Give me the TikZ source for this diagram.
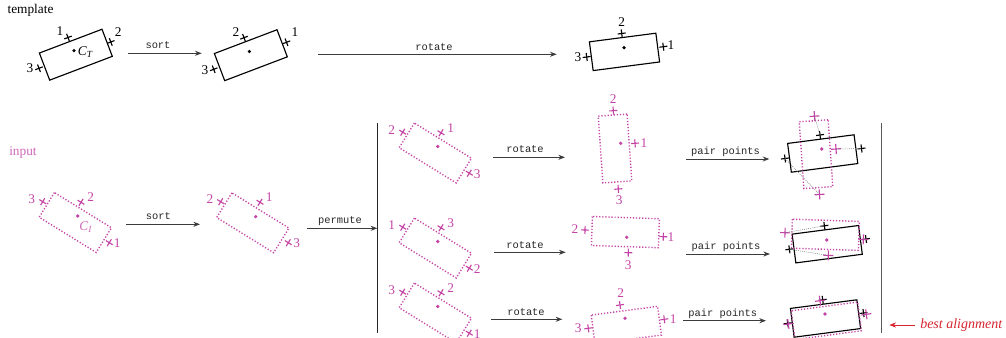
\documentclass[tikz,border=0pt]{standalone}
\usepackage{fontspec}
\setmainfont{Liberation Serif}
\setmonofont{Liberation Mono}
\usetikzlibrary{arrows.meta}
\definecolor{mag}{RGB}{196,68,166}
\definecolor{magl}{RGB}{206,104,184}
\definecolor{redc}{RGB}{214,36,48}
\definecolor{dk}{RGB}{60,60,60}
\tikzset{
  solidrect/.style={draw=black,line width=0.85pt},
  dotrect/.style={draw=mag,line width=1.05pt,dash pattern=on 0.9pt off 1.4pt},
  mkb/.style={draw=black,line width=0.85pt},
  mkm/.style={draw=mag,line width=0.85pt},
  arr/.style={draw=dk,line width=0.7pt,-{Stealth[length=5pt,width=3.8pt]}},
  arrlab/.style={font=\ttfamily\fontsize{7.8}{9}\selectfont,anchor=base,inner sep=0pt,text=black!85},
  lab/.style={font=\fontsize{10}{12}\selectfont,inner sep=0pt},
  labm/.style={lab,text=mag},
  pairln/.style={draw=gray,line width=0.4pt,dash pattern=on 0.8pt off 0.8pt},
  barln/.style={line width=0.8pt}
}
\newcommand\rct[4]{\draw[#4,shift={(#1,#2)},rotate=#3] (-33.5,-14.5) rectangle (33.5,14.5);}
\newcommand\mk[6]{\coordinate (#1) at (#2,#3);\draw[#5,shift={(#2,#3)},rotate=#4] (-#6,0)--(#6,0) (0,-#6)--(0,#6);}
\newcommand\dt[4]{\coordinate (#1) at (#2,#3);\fill[#4] (#1) circle (1.35pt);}
\newcommand\perm[6]{%
  \begin{scope}[shift={(#1,#2)}]
    \rct{75.3}{222.5}{-31.7}{dotrect}
    \dt{#6c}{77.7}{216}{mag}
    \mk{#6a}{42.7}{201.7}{-31.7}{mkm}{4}
    \mk{#6b}{81}{202.3}{-31.7}{mkm}{4}
    \mk{#6d}{109.3}{242.7}{-31.7}{mkm}{4}
    \node[labm] (#6l) at (31.7,199.3) {#3};
    \node[labm] (#6u) at (90.7,197.3) {#4};
    \node[labm] (#6r) at (117.3,243.3) {#5};
  \end{scope}}
\begin{document}
\begin{tikzpicture}[x=0.75pt,y=-0.75pt]
\useasboundingbox (0,0) rectangle (1006,338);
\clip (0,0) rectangle (1006,338);
% ---------- template row
\node[lab,anchor=base west] (ttl) at (7.3,14) {template};
\rct{75.85}{54.7}{20.8}{solidrect}
\dt{t1c}{74}{50.7}{black}
\node[lab,anchor=base west] (t1n) at (77.5,56) {\textit{C}\textsubscript{\textit{T}}};
\mk{t1a}{68}{37.5}{20.8}{mkb}{4}
\mk{t1b}{110.8}{42}{20.8}{mkb}{4}
\mk{t1d}{39}{68.3}{20.8}{mkb}{4}
\node[lab] (t1l1) at (60,31) {1};
\node[lab] (t1l2) at (118.3,32.5) {2};
\node[lab] (t1l3) at (30,68.5) {3};
\coordinate (s1a) at (127.7,53.3); \coordinate (s1b) at (201.7,53.3);
\draw[arr] (s1a) -- (s1b);
\node[arrlab] (s1l) at (158,48.6) {sort};
\rct{250.85}{55.2}{20.8}{solidrect}
\dt{t2c}{249.3}{51.5}{black}
\mk{t2a}{244}{37.7}{20.8}{mkb}{4}
\mk{t2b}{286.5}{42.3}{20.8}{mkb}{4}
\mk{t2d}{213.7}{69.3}{20.8}{mkb}{4}
\node[lab] (t2l2) at (236,31.7) {2};
\node[lab] (t2l1) at (295,32.3) {1};
\node[lab] (t2l3) at (205,70) {3};
\coordinate (r0a) at (318.3,54.3); \coordinate (r0b) at (556.7,54.3);
\draw[arr] (r0a) -- (r0b);
\node[arrlab] (r0l) at (434,50.3) {rotate};
\rct{624.5}{51.9}{7.4}{solidrect}
\dt{t3c}{624}{47.7}{black}
\mk{t3a}{621.7}{33.5}{7.4}{mkb}{4}
\mk{t3b}{663.3}{46.7}{7.4}{mkb}{4}
\mk{t3d}{586.7}{57}{7.4}{mkb}{4}
\node[lab] (t3l2) at (621.7,22.5) {2};
\node[lab] (t3l1) at (671,45.5) {1};
\node[lab] (t3l3) at (578,57.5) {3};
% ---------- input row
\node[lab,anchor=base west,text=magl] (inl) at (9,156) {input};
\rct{75.3}{222.5}{-31.7}{dotrect}
\dt{i1c}{77.7}{216}{mag}
\node[lab,anchor=base west,text=magl] (i1n) at (79,230.5) {\textit{C}\textsubscript{\textit{I}}};
\mk{i1a}{42.7}{201.7}{-31.7}{mkm}{4}
\mk{i1b}{81}{202.3}{-31.7}{mkm}{4}
\mk{i1d}{109.3}{242.7}{-31.7}{mkm}{4}
\node[labm] (i1l3) at (31.7,199.3) {3};
\node[labm] (i1l2) at (90.7,197.3) {2};
\node[labm] (i1l1) at (117.3,243.3) {1};
\coordinate (s2a) at (126,224.3); \coordinate (s2b) at (200,224.3);
\draw[arr] (s2a) -- (s2b);
\node[arrlab] (s2l) at (158.3,219.8) {sort};
\rct{252.8}{222.8}{-31.7}{dotrect}
\dt{i2c}{255.7}{216.7}{mag}
\mk{i2a}{220.7}{201.7}{-31.7}{mkm}{4}
\mk{i2b}{260}{202.3}{-31.7}{mkm}{4}
\mk{i2d}{288.3}{242.7}{-31.7}{mkm}{4}
\node[labm] (i2l2) at (210,199.3) {2};
\node[labm] (i2l1) at (269.3,197.3) {1};
\node[labm] (i2l3) at (296.7,243.3) {3};
% permute
\coordinate (b1t) at (377.3,122.7); \coordinate (b1b) at (377.3,332.7);
\draw[barln,draw=black!85] (b1t) -- (b1b);
\coordinate (pma) at (306.7,228.3); \coordinate (pmb) at (377.3,228.3);
\draw[arr] (pma) -- (pmb);
\node[arrlab] (pml) at (340,224) {permute};
\perm{360}{-69.5}{2}{1}{3}{pA}
\perm{360}{25.5}{1}{3}{2}{pB}
\perm{360}{90.5}{3}{2}{1}{pC}
% rotate arrows
\coordinate (rAa) at (493.3,157.3); \coordinate (rAb) at (565,157.3);
\draw[arr] (rAa) -- (rAb);
\node[arrlab] (rAl) at (525,153) {rotate};
\coordinate (rBa) at (494,252.3); \coordinate (rBb) at (565.7,252.3);
\draw[arr] (rBa) -- (rBb);
\node[arrlab] (rBl) at (525,248) {rotate};
\coordinate (rCa) at (491,319.3); \coordinate (rCb) at (562.3,319.3);
\draw[arr] (rCa) -- (rCb);
\node[arrlab] (rCl) at (526,315) {rotate};
% rotated inputs
\rct{615}{148.5}{-86}{dotrect}
\dt{qAc}{620.7}{143.3}{mag}
\mk{qAa}{613.3}{110.7}{-86}{mkm}{4}
\mk{qAb}{635}{143.3}{-86}{mkm}{4}
\mk{qAd}{618.3}{189}{-86}{mkm}{4}
\node[labm] (qAl2) at (613.3,99.5) {2};
\node[labm] (qAl1) at (644,143) {1};
\node[labm] (qAl3) at (619.3,200.5) {3};
\rct{625.4}{232.1}{-1.9}{dotrect}
\dt{qBc}{626.7}{237.3}{mag}
\mk{qBa}{585}{230}{-1.9}{mkm}{4}
\mk{qBb}{663.3}{236.7}{-1.9}{mkm}{4}
\mk{qBd}{628.3}{252.7}{-1.9}{mkm}{4}
\node[labm] (qBl2) at (575,229.5) {2};
\node[labm] (qBl1) at (671,237.3) {1};
\node[labm] (qBl3) at (628.3,265) {3};
\rct{626.3}{325.1}{7.5}{dotrect}
\dt{qCc}{625}{318.3}{mag}
\mk{qCa}{620}{305}{7.5}{mkm}{4}
\mk{qCb}{664.3}{319.3}{7.5}{mkm}{4}
\mk{qCd}{588.3}{328.3}{7.5}{mkm}{4}
\node[labm] (qCl2) at (620.7,293.3) {2};
\node[labm] (qCl1) at (673.3,319.3) {1};
\node[labm] (qCl3) at (578.3,328.3) {3};
% pair points arrows
\coordinate (ppAa) at (686,159); \coordinate (ppAb) at (769.3,159);
\draw[arr] (ppAa) -- (ppAb);
\node[arrlab] (ppAl) at (725.5,154.5) {pair points};
\coordinate (ppBa) at (686,254); \coordinate (ppBb) at (770,254);
\draw[arr] (ppBa) -- (ppBb);
\node[arrlab] (ppBl) at (726,249.5) {pair points};
\coordinate (ppCa) at (683.3,320.7); \coordinate (ppCb) at (766,320.7);
\draw[arr] (ppCa) -- (ppCb);
\node[arrlab] (ppCl) at (722.7,316.2) {pair points};
% overlay A
\rct{822.7}{153.5}{7.4}{solidrect}
\mk{oAbt}{820}{135}{7.4}{mkb}{4}
\mk{oAbr}{861.5}{148.5}{7.4}{mkb}{4}
\mk{oAbl}{785}{158.5}{7.4}{mkb}{4}
\rct{816}{154.2}{-86}{dotrect}
\dt{oAc}{821.7}{149}{mag}
\mk{oAmt}{814.5}{116.2}{-86}{mkm}{5}
\mk{oAmr}{836}{149}{-86}{mkm}{5}
\mk{oAmb}{819.5}{194.5}{-86}{mkm}{5}
\draw[pairln] (oAmt) -- (oAbt);
\draw[pairln] (oAmr) -- (oAbr);
\draw[pairln] (oAbl) -- (oAmb);
% overlay B
\rct{827.2}{244.2}{7.4}{solidrect}
\mk{oBbt}{824.4}{225.8}{7.4}{mkb}{4}
\mk{oBbr}{866}{239}{7.4}{mkb}{4}
\mk{oBbl}{789.4}{249.3}{7.4}{mkb}{4}
\rct{825.4}{234.8}{-1.9}{dotrect}
\dt{oBc}{826.7}{240}{mag}
\mk{oBml}{785}{232.7}{-1.9}{mkm}{5}
\mk{oBmr}{863.3}{239.4}{-1.9}{mkm}{5}
\mk{oBmb}{828.3}{255.4}{-1.9}{mkm}{5}
\draw[pairln] (oBml) -- (oBbt);
\draw[pairln] (oBbl) -- (oBmb);
\draw[pairln] (oBmr) -- (oBbr);
% overlay C
\rct{825.5}{318.5}{7.4}{solidrect}
\mk{oCbt}{822.7}{299.8}{7.4}{mkb}{4}
\mk{oCbr}{863.5}{313}{7.4}{mkb}{4}
\mk{oCbl}{787.7}{323.3}{7.4}{mkb}{4}
\rct{826.3}{320.8}{7.5}{dotrect}
\dt{oCc}{825}{314}{mag}
\mk{oCmt}{820}{300.7}{7.5}{mkm}{5}
\mk{oCmr}{866.3}{314.3}{7.5}{mkm}{5}
\mk{oCml}{788.3}{324}{7.5}{mkm}{5}
% right bar and best alignment
\coordinate (b2t) at (881.7,123.3); \coordinate (b2b) at (881.7,333.3);
\draw[barln,draw=black!65] (b2t) -- (b2b);
\node[anchor=base west,inner sep=0pt,text=redc,font=\itshape\fontsize{10.5}{12}\selectfont] (best) at (920,328.6) {best alignment};
\coordinate (bat) at (915,325); \coordinate (bah) at (889.3,325);
\draw[draw=redc,line width=0.7pt,-{Stealth[length=5pt,width=3.8pt]}] (bat) -- (bah);
\end{tikzpicture}
\end{document}
